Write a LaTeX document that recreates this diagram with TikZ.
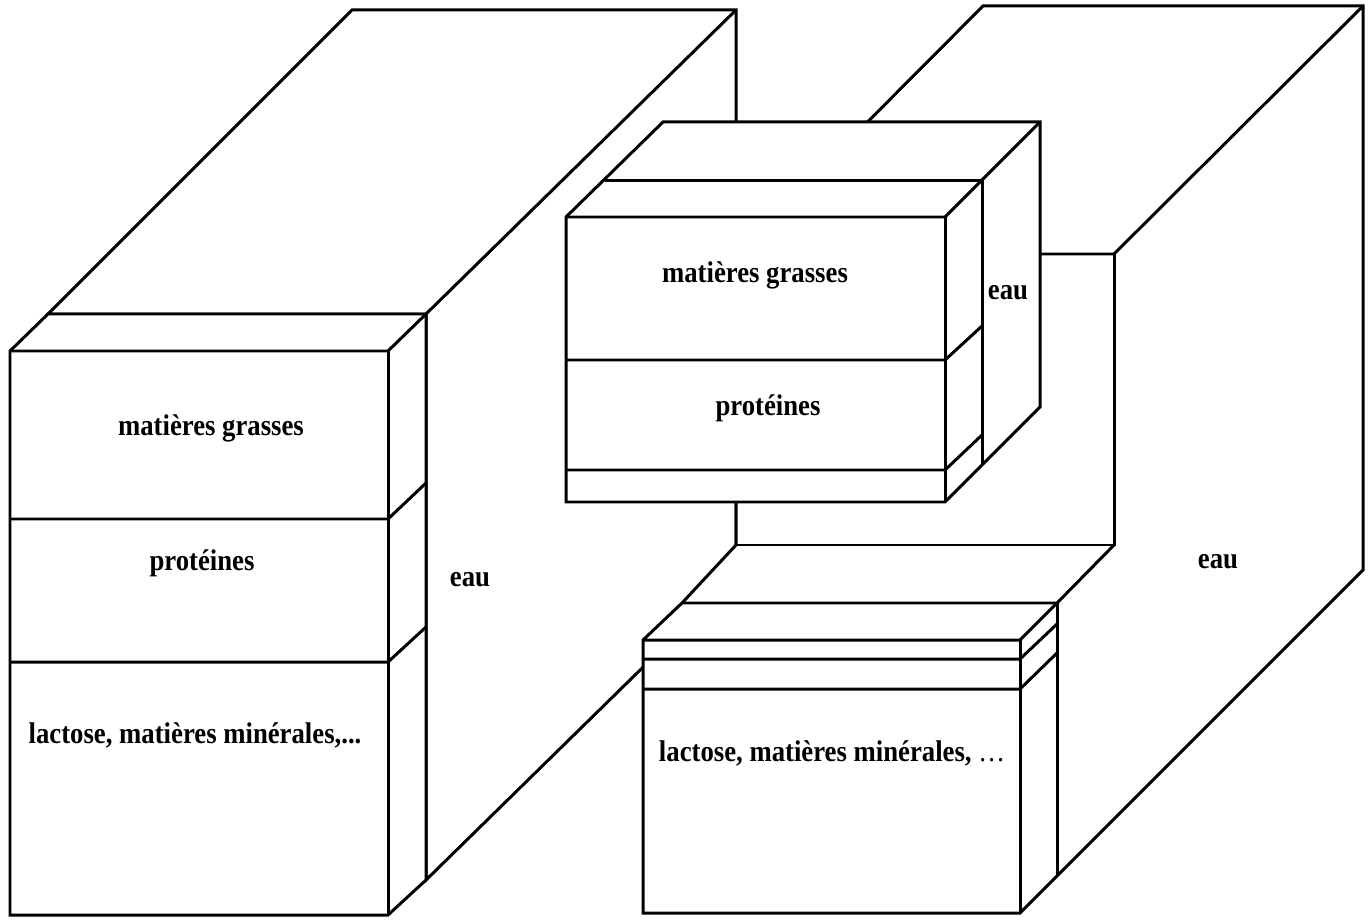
\documentclass[tikz,border=0pt]{standalone}
\usepackage{fontspec}
\setmainfont{Liberation Serif}
\tikzstyle{face} = [draw=black,fill=white,line width=0.85pt,line join=miter]
\tikzstyle{edge} = [draw=black,line width=0.85pt,line join=miter]
\tikzstyle{compo} = [font=\bfseries\fontsize{7.6}{9}\selectfont,inner sep=0pt]
\newcommand{\haut}[1]{\scalebox{1}[1.12]{#1}}
\begin{document}
\begin{tikzpicture}[x=0.01cm,y=-0.01cm]
\useasboundingbox (0,0) rectangle (1371,919);

% lait entier : eau a l'arriere
\draw[face] (48,314) -- (352,10) -- (736,10) -- (736,576) -- (426,880) -- (426,314) -- cycle;
\draw[edge] (426,314) -- (736,10);

% lait entier : constituants
\draw[face] (10,351) -- (48,314) -- (426,314) -- (426,880) -- (388,915) -- (10,915) -- cycle;
\draw[edge] (10,351) -- (388,351) -- (426,314);
\draw[edge] (388,351) -- (388,915);
\draw[edge] (10,519) -- (388,519) -- (426,483);
\draw[edge] (10,662) -- (388,662) -- (426,627);

% lait ecreme : eau
\draw[face] (643,640) -- (682,603) -- (736,545) -- (736,254) -- (983,6) -- (1363,6) -- (1363,570) -- (1020,913) -- (643,913) -- cycle;
\draw[edge] (736,254) -- (1114,254) -- (1363,6);
\draw[edge] (1114,254) -- (1114,545) -- (736,545);
\draw[edge] (1114,545) -- (1057,603) -- (682,603);

% lait ecreme : constituants
\draw[edge] (643,640) -- (1020,640) -- (1057,603);
\draw[edge] (1020,640) -- (1020,913);
\draw[edge] (1057,603) -- (1057,876);
\draw[edge] (643,659) -- (1020,659) -- (1057,624);
\draw[edge] (643,689) -- (1020,689) -- (1057,653);

% creme
\draw[face] (566,502) -- (566,217) -- (663,122) -- (1040,122) -- (1040,407) -- (945,502) -- cycle;
\draw[edge] (566,217) -- (945,217) -- (1040,122);
\draw[edge] (605,181) -- (982,181) -- (982,465);
\draw[edge] (945,217) -- (945,502);
\draw[edge] (566,360) -- (945,360) -- (982,326);
\draw[edge] (566,470) -- (945,470) -- (982,435);

% textes
\node[compo] (mg1) at (211,428) {\haut{matières grasses}};
\node[compo] (pr1) at (202,563) {\haut{protéines}};
\node[compo] (la1) at (195,735) {\haut{lactose, matières minérales,...}};
\node[compo] (eau1) at (470,580) {\haut{eau}};
\node[compo] (mg2) at (755,275) {\haut{matières grasses}};
\node[compo] (pr2) at (768,408) {\haut{protéines}};
\node[compo] (eau2) at (1008,293) {\haut{eau}};
\node[compo] (la2) at (832,753) {\haut{lactose, matières minérales, {\mdseries\dots}}};
\node[compo] (eau3) at (1218,562) {\haut{eau}};
\end{tikzpicture}
\end{document}
